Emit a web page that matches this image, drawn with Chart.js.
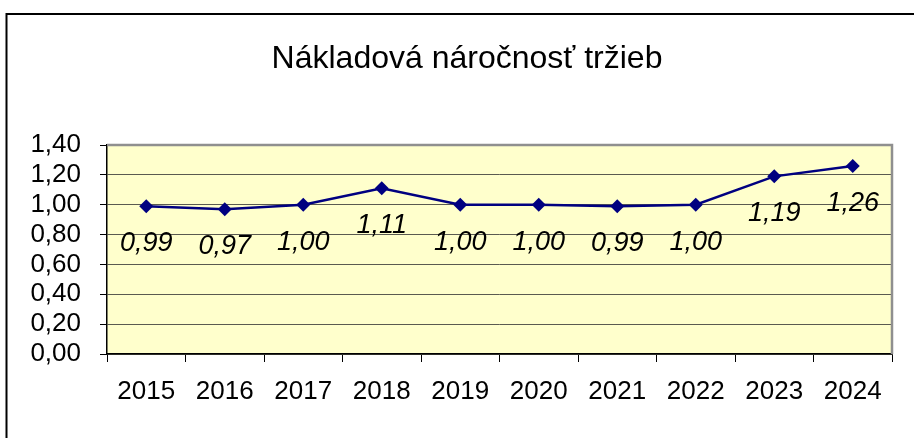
<!DOCTYPE html>
<html>
<head>
<meta charset="utf-8">
<script src="https://cdn.jsdelivr.net/npm/chart.js@4"></script>
<style>
  html, body { margin: 0; padding: 0; background: #ffffff; }
  #wrap { width: 914px; height: 438px; }
</style>
</head>
<body>
<div id="wrap"><canvas id="c" width="914" height="438"></canvas></div>
<script>
const titleText = "Nákladová náročnosť tržieb";
const years = ["2015", "2016", "2017", "2018", "2019", "2020", "2021", "2022", "2023", "2024"];
const values = [0.99, 0.97, 1.00, 1.11, 1.00, 1.00, 0.99, 1.00, 1.19, 1.26];
const yTicks = [0, 0.2, 0.4, 0.6, 0.8, 1.0, 1.2, 1.4];

const FONT = "'Liberation Sans', Arial, sans-serif";
const fmt = v => v.toFixed(2).replace('.', ',');

const framePlugin = {
  id: 'frame',
  beforeDraw(chart) {
    const ctx = chart.ctx;
    const a = chart.chartArea;
    ctx.save();
    ctx.fillStyle = '#ffffff';
    ctx.fillRect(0, 0, chart.width, chart.height);
    ctx.strokeStyle = '#000000';
    ctx.lineWidth = 2;
    ctx.beginPath();
    ctx.moveTo(914, 14);
    ctx.lineTo(6.5, 14);
    ctx.lineTo(6.5, 438);
    ctx.stroke();
    ctx.fillStyle = '#FFFFCC';
    ctx.fillRect(a.left, a.top, a.right - a.left, a.bottom - a.top);
    ctx.restore();
  },
  afterDraw(chart) {
    const ctx = chart.ctx;
    const a = chart.chartArea;
    ctx.save();
    ctx.strokeStyle = '#8f8f8f';
    ctx.lineWidth = 2.5;
    ctx.beginPath();
    ctx.moveTo(a.left, a.top);
    ctx.lineTo(a.right, a.top);
    ctx.lineTo(a.right, a.bottom);
    ctx.stroke();
    ctx.restore();
  }
};

const labelPlugin = {
  id: 'valueLabels',
  afterDatasetsDraw(chart) {
    const ctx = chart.ctx;
    const meta = chart.getDatasetMeta(0);
    ctx.save();
    ctx.font = "italic 27px " + FONT;
    ctx.fillStyle = '#000000';
    ctx.textAlign = 'center';
    ctx.textBaseline = 'alphabetic';
    meta.data.forEach((pt, i) => {
      ctx.fillText(fmt(values[i]), pt.x, pt.y + 45);
    });
    ctx.restore();
  }
};

new Chart(document.getElementById('c'), {
  type: 'line',
  data: {
    labels: years,
    datasets: [{
      data: values,
      borderColor: '#000080',
      backgroundColor: '#000080',
      borderWidth: 2.5,
      pointStyle: 'rectRot',
      pointRadius: 7,
      pointBorderWidth: 0,
      tension: 0,
      fill: false
    }]
  },
  options: {
    responsive: false,
    animation: false,
    layout: { padding: { left: 20, right: 0, top: 0, bottom: 0 } },
    plugins: {
      legend: { display: false },
      tooltip: { enabled: false },
      title: {
        display: true,
        text: titleText,
        color: '#000000',
        font: { family: FONT, size: 32, weight: 'normal' },
        padding: { top: 40, bottom: 66.6 }
      }
    },
    scales: {
      x: {
        type: 'category',
        offset: true,
        afterFit(s) { s.height = 84; },
        grid: {
          offset: true,
          drawOnChartArea: false,
          drawTicks: true,
          tickLength: 8,
          color: '#000000',
          lineWidth: 1
        },
        border: { display: true, color: '#000000', width: 1.5 },
        ticks: {
          color: '#000000',
          font: { family: FONT, size: 26 },
          padding: 14,
          maxRotation: 0,
          autoSkip: false
        }
      },
      y: {
        min: 0,
        max: 1.4,
        afterFit(s) { s.width = 87; },
        afterBuildTicks(s) { s.ticks = yTicks.map(v => ({ value: v })); },
        grid: {
          color: '#5a5a50',
          lineWidth: 1,
          drawTicks: true,
          tickLength: 7,
          tickColor: '#000000'
        },
        border: { display: true, color: '#000000', width: 1.5 },
        ticks: {
          color: '#000000',
          font: { family: FONT, size: 26 },
          padding: 19,
          autoSkip: false,
          callback: v => fmt(v)
        }
      },
      yRight: {
        position: 'right',
        display: true,
        min: 0,
        max: 1.4,
        afterFit(s) { s.width = 22; },
        grid: { display: false, drawTicks: false },
        border: { display: false },
        ticks: { display: false }
      }
    }
  },
  plugins: [framePlugin, labelPlugin]
});
</script>
</body>
</html>
